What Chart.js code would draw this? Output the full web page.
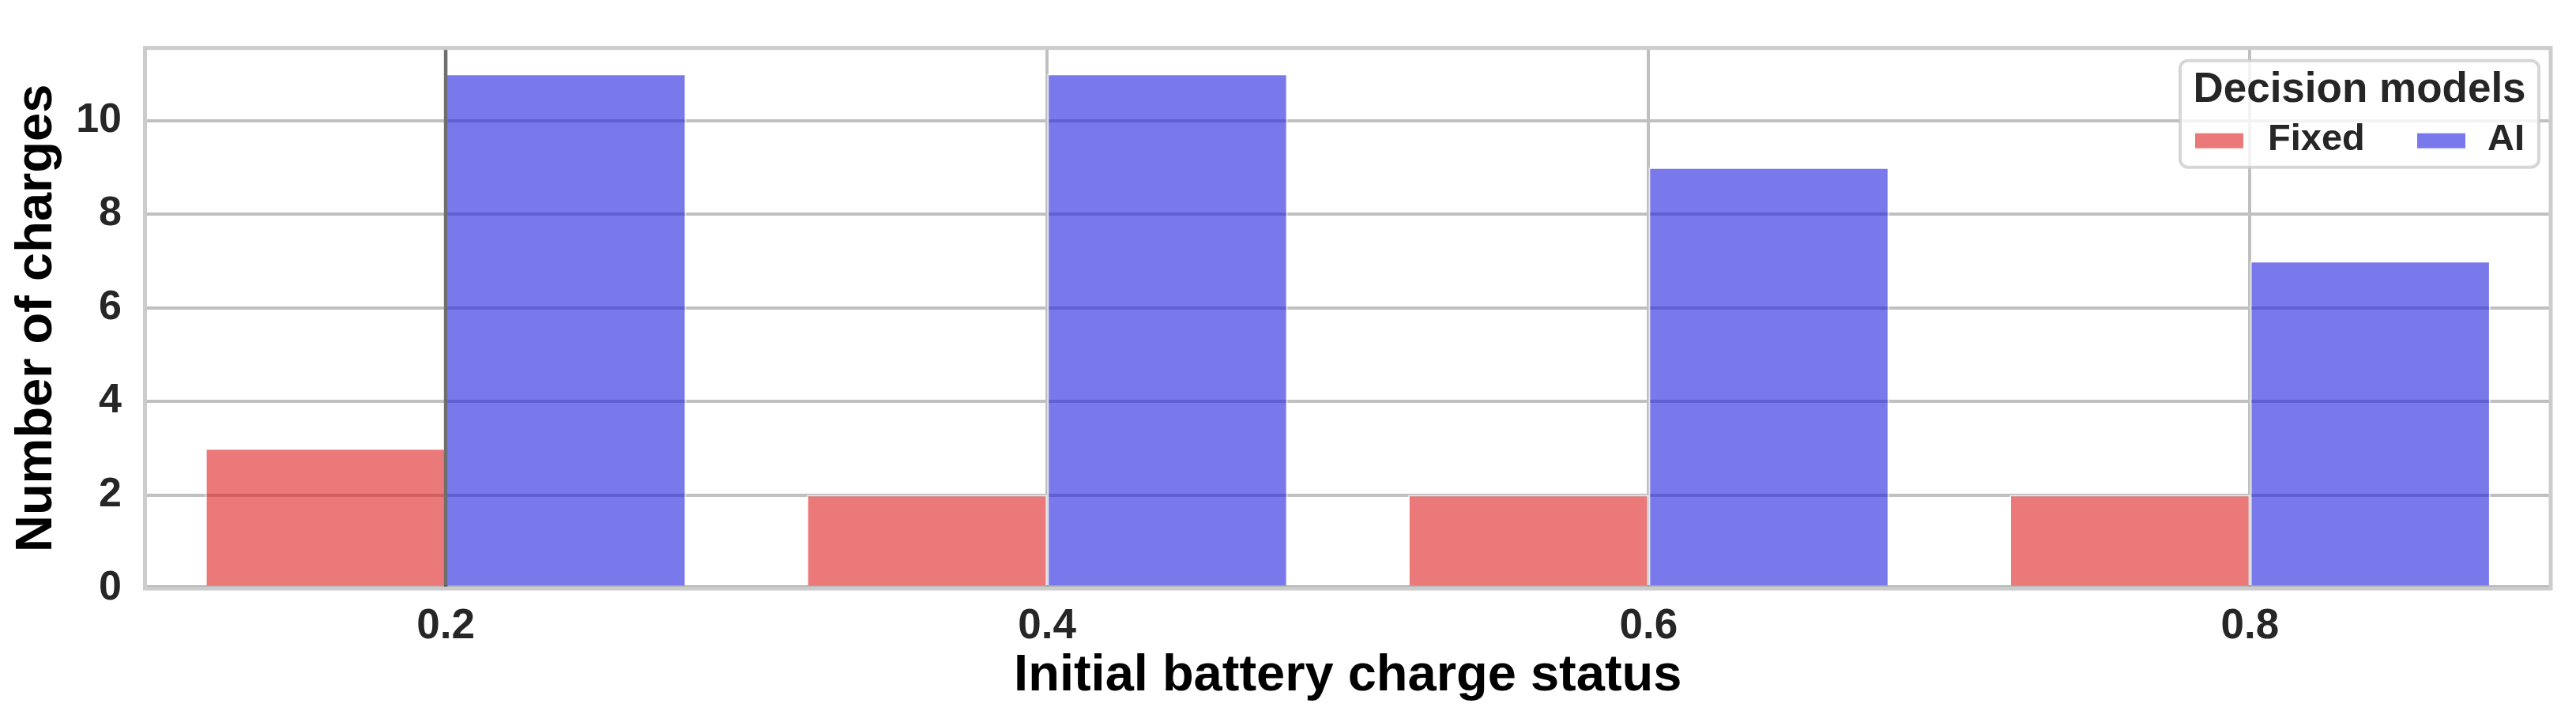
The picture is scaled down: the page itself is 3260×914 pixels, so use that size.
<!DOCTYPE html>
<html>
<head>
<meta charset="utf-8">
<script src="https://cdn.jsdelivr.net/npm/chart.js@4.4.1/dist/chart.umd.min.js"></script>
<style>
    html, body { margin: 0; padding: 0; background: #fff; }
    #wrap { width: 3260px; height: 914px; }
</style>
</head>
<body>
<div id="wrap"><canvas id="chart" width="3260" height="914"></canvas></div>
<script>
// --- Data ---
const categories = ['0.2', '0.4', '0.6', '0.8']
const fixedCharges = [3, 2, 2, 2]
const aiCharges = [11, 11, 9, 7]
const seriesLabels = ['Fixed', 'AI']
const yTicks = [0, 2, 4, 6, 8, 10]
const yMax = 11.55
const legendTitle = 'Decision models'

// --- Style ---
const FONT = "'Liberation Sans', Arial, Helvetica, sans-serif"
const TEXT = '#262626'
const GRID = '#c0c0c0'
const colors = ['rgba(223,32,32,0.6)', 'rgba(32,32,223,0.6)']
const edge = 'rgba(255,255,255,0.6)'

// spines, the line at the first category and the y=0 line
const framePlugin = {
    id: 'frame',
    afterDatasetsDraw(chart) {
        const { ctx, chartArea: a, scales } = chart
        ctx.save()
        const x0 = scales.x.getPixelForValue(0)
        ctx.strokeStyle = '#6e6e6e'
        ctx.lineWidth = 4.5
        ctx.beginPath()
        ctx.moveTo(x0, a.top)
        ctx.lineTo(x0, a.bottom)
        ctx.stroke()

        ctx.strokeStyle = 'rgba(0,0,0,0.45)'
        ctx.lineWidth = 1.5
        ctx.beginPath()
        ctx.moveTo(a.left, a.bottom - 3)
        ctx.lineTo(a.right, a.bottom - 3)
        ctx.stroke()

        ctx.strokeStyle = '#cccccc'
        ctx.lineWidth = 5
        ctx.strokeRect(a.left, a.top, a.right - a.left, a.bottom - a.top)
        ctx.restore()
    }
}

// legend box inside the plot, top right
const legendPlugin = {
    id: 'legendBox',
    afterDatasetsDraw(chart) {
        const { ctx, chartArea: a } = chart
        const w = 454, h = 135
        const left = a.right - 15 - w
        const top = a.top + 16
        ctx.save()
        ctx.beginPath()
        ctx.roundRect(left, top, w, h, 10)
        ctx.fillStyle = 'rgba(255,255,255,0.8)'
        ctx.fill()
        ctx.strokeStyle = 'rgba(204,204,204,0.8)'
        ctx.lineWidth = 4
        ctx.stroke()

        ctx.fillStyle = TEXT
        ctx.textBaseline = 'alphabetic'
        ctx.textAlign = 'center'
        ctx.font = `bold 53px ${FONT}`
        ctx.fillText(legendTitle, left + w / 2, top + 52)

        ctx.textAlign = 'left'
        ctx.font = `bold 47px ${FONT}`
        const swatchX = [19, 300]
        const textX = [111, 389]
        chart.data.datasets.forEach((ds, i) => {
            ctx.fillStyle = '#fff'
            ctx.fillRect(left + swatchX[i], top + 92, 61, 19)
            ctx.fillStyle = ds.backgroundColor
            ctx.fillRect(left + swatchX[i], top + 92, 61, 19)
            ctx.fillStyle = TEXT
            ctx.fillText(ds.label, left + textX[i], top + 113)
        })
        ctx.restore()
    }
}

const chart = new Chart(document.getElementById('chart'), {
    type: 'bar',
    data: {
        labels: categories,
        datasets: [
            { label: seriesLabels[0], data: fixedCharges, backgroundColor: colors[0], borderColor: edge, borderWidth: 2, borderSkipped: false },
            { label: seriesLabels[1], data: aiCharges, backgroundColor: colors[1], borderColor: edge, borderWidth: 2, borderSkipped: false }
        ]
    },
    options: {
        responsive: false,
        animation: false,
        devicePixelRatio: 1,
        layout: { padding: { top: 44, right: 32, left: 0, bottom: 0 } },
        datasets: { bar: { categoryPercentage: 0.8, barPercentage: 1.0 } },
        plugins: {
            legend: { display: false },
            tooltip: { enabled: false }
        },
        scales: {
            x: {
                offset: true,
                grid: { offset: false, color: GRID, lineWidth: 4, drawTicks: false },
                border: { display: false },
                ticks: { color: TEXT, padding: 16.5, font: { family: FONT, size: 53, weight: 'bold' } },
                title: { display: true, text: 'Initial battery charge status', color: '#000', padding: { top: 0, bottom: 18.5 }, font: { family: FONT, size: 65, weight: 'bold' } },
                afterFit: s => { s.height = 914 - 745 }
            },
            y: {
                min: 0,
                max: yMax,
                grid: { color: GRID, lineWidth: 4, drawTicks: false },
                border: { display: false },
                ticks: { color: TEXT, padding: 29.5, includeBounds: false, font: { family: FONT, size: 52, weight: 'bold' } },
                afterBuildTicks: s => { s.ticks = yTicks.map(v => ({ value: v })) },
                title: { display: true, text: 'Number of charges', color: '#000', padding: { top: 8, bottom: 0 }, font: { family: FONT, size: 65, weight: 'bold' } },
                afterFit: s => { s.width = 183.5 }
            }
        }
    },
    plugins: [framePlugin, legendPlugin]
})
</script>
</body>
</html>
